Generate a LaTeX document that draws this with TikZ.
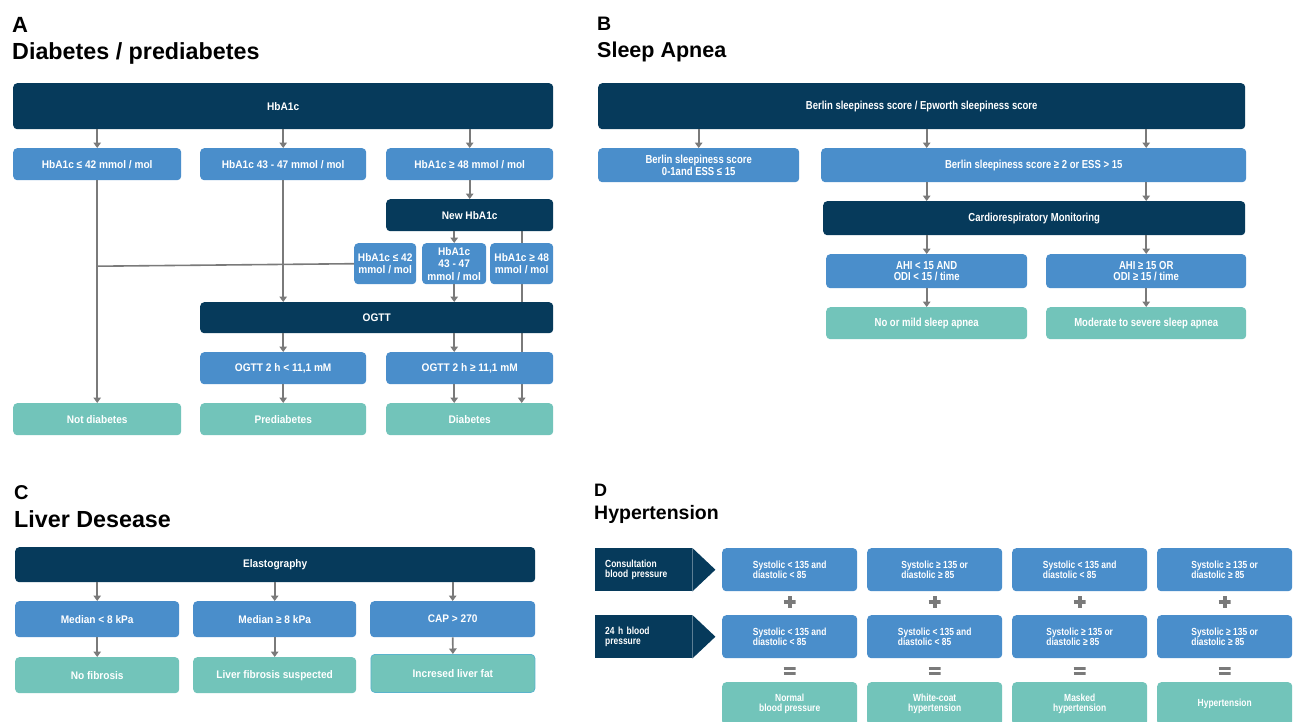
\documentclass[tikz,border=0pt]{standalone}
\usepackage{fontspec}
\setmainfont{Liberation Sans}[FakeStretch=0.92]
\newfontfamily\titlefont{Liberation Sans}
\newfontfamily\condfont{Liberation Sans}[FakeStretch=0.82]
\usetikzlibrary{positioning}
\usetikzlibrary{arrows.meta}
\usetikzlibrary{backgrounds}
\definecolor{dnavy}{HTML}{063A5B}
\definecolor{mblue}{HTML}{4A8ECB}
\definecolor{lteal}{HTML}{72C4BA}
\definecolor{agray}{HTML}{7A7A7A}
\definecolor{fatedge}{HTML}{5AB4CC}
\def\fA{\bfseries\fontsize{11}{12.5}\selectfont}
\def\fB{\condfont\bfseries\fontsize{11.6}{11.7}\selectfont}
\def\fD{\condfont\bfseries\fontsize{10.3}{10.6}\selectfont}
\tikzset{
  box/.style={rounded corners=4pt, text=white, font=\fA, inner sep=2pt, align=center, anchor=north west},
  navybox/.style={box, fill=dnavy},
  bluebox/.style={box, fill=mblue},
  tealbox/.style={box, fill=lteal},
  labelbox/.style={fill=dnavy, text=white, font=\fD, anchor=north west, minimum height=43,
    text width=77pt, inner xsep=10pt, align=left},
  dbox/.style={font=\fD, minimum width=135, minimum height=43},
  arr/.style={draw=agray, line width=1.6pt, -{Triangle[width=7.5pt,length=5.5pt]}},
  ln/.style={draw=agray, line width=1.6pt},
  ttl/.style={anchor=base west, inner sep=0pt, font=\titlefont\bfseries},
  plusmark/.style={minimum size=12pt, inner sep=0pt, path picture={
    \draw[agray, line width=3.8pt] (path picture bounding box.west) -- (path picture bounding box.east)
      (path picture bounding box.north) -- (path picture bounding box.south);}},
  eqmark/.style={minimum width=12pt, minimum height=10pt, inner sep=0pt, path picture={
    \draw[agray, line width=3pt] ([yshift=2.8pt]path picture bounding box.west) -- ([yshift=2.8pt]path picture bounding box.east)
      ([yshift=-2.8pt]path picture bounding box.west) -- ([yshift=-2.8pt]path picture bounding box.east);}}
}
\begin{document}
\begin{tikzpicture}[x=1pt, y=-1pt]
    \useasboundingbox (0,0) rectangle (1294,721);

    \node[ttl, font=\titlefont\bfseries\fontsize{22}{22}\selectfont] (tA) at (12,32.3) {A};
    \node[ttl, font=\titlefont\bfseries\fontsize{23.3}{23}\selectfont] (hA) at (12,59.3) {Diabetes / prediabetes};
    \node[navybox, minimum width=540, minimum height=46] (hb) at (13,83) {HbA1c};
    \node[bluebox, minimum width=168, minimum height=32] (a1) at (13,148) {HbA1c ≤ 42 mmol / mol};
    \node[bluebox, minimum width=166, minimum height=32] (a2) at (200,148) {HbA1c 43 - 47 mmol / mol};
    \node[bluebox, minimum width=167, minimum height=32] (a3) at (386,148) {HbA1c ≥ 48 mmol / mol};
    \node[navybox, minimum width=167, minimum height=32] (nhb) at (386,199) {New HbA1c};
    \node[bluebox, minimum width=62, minimum height=41, inner sep=1pt] (s1) at (354,243) {HbA1c ≤ 42\\mmol / mol};
    \node[bluebox, minimum width=64, minimum height=41, inner sep=1pt] (s2) at (422,243) {HbA1c\\43 - 47\\mmol / mol};
    \node[bluebox, minimum width=63, minimum height=41, inner sep=1pt] (s3) at (490,243) {HbA1c ≥ 48\\mmol / mol};
    \node[navybox, minimum width=353, minimum height=31] (og) at (200,302) {OGTT};
    \node[bluebox, minimum width=166, minimum height=32] (o1) at (200,352) {OGTT 2 h < 11,1 mM};
    \node[bluebox, minimum width=167, minimum height=32] (o2) at (386,352) {OGTT 2 h ≥ 11,1 mM};
    \node[tealbox, minimum width=168, minimum height=32] (nd) at (13,403) {Not diabetes};
    \node[tealbox, minimum width=166, minimum height=32] (pd) at (200,403) {Prediabetes};
    \node[tealbox, minimum width=167, minimum height=32] (db) at (386,403) {Diabetes};
    \draw[arr] (hb.south -| a1.north) -- (a1.north);
    \draw[arr] (hb.south -| a2.north) -- (a2.north);
    \draw[arr] (hb.south -| a3.north) -- (a3.north);
    \draw[arr] (a3.south) -- (nhb.north);
    \draw[arr] (nhb.south -| s2.north) -- (s2.north);
    \begin{scope}[on background layer]
        \fill[white] (0,0) rectangle (1294,721);
        \draw[arr] (nhb.south -| s3.north) -- (db.north -| s3.north);
    \end{scope}
    \draw[arr] (a1.south) -- (nd.north);
    \draw[ln] (s1.west) -- ([yshift=-2.5pt]s1.west -| a1.south);
    \draw[arr] (a2.south) -- (og.north -| a2.south);
    \draw[arr] (s2.south) -- (og.north -| s2.south);
    \draw[arr] (og.south -| o1.north) -- (o1.north);
    \draw[arr] (og.south -| s2.south) -- (o2.north -| s2.south);
    \draw[arr] (o1.south) -- (pd.north);
    \draw[arr] (o2.south -| s2.south) -- (db.north -| s2.south);

    \node[ttl, font=\titlefont\bfseries\fontsize{19.5}{20}\selectfont] (tB) at (597,30.7) {B};
    \node[ttl, font=\titlefont\bfseries\fontsize{21.5}{22}\selectfont] (hB) at (597,57.3) {Sleep Apnea};
    \node[navybox, font=\fB, minimum width=647, minimum height=46] (bs) at (598,83) {Berlin sleepiness score / Epworth sleepiness score};
    \node[bluebox, font=\fB, minimum width=201, minimum height=34] (b1) at (598,148) {Berlin sleepiness score\\0-1and ESS ≤ 15};
    \node[bluebox, font=\fB, minimum width=425, minimum height=34] (b2) at (821,148) {Berlin sleepiness score ≥ 2 or ESS > 15};
    \node[navybox, font=\fB, minimum width=422, minimum height=34] (cm) at (823,201) {Cardiorespiratory Monitoring};
    \node[bluebox, font=\fB, minimum width=201, minimum height=34] (h1) at (826,254) {AHI < 15 AND\\ODI < 15 / time};
    \node[bluebox, font=\fB, minimum width=200, minimum height=34] (h2) at (1046,254) {AHI ≥ 15 OR\\ODI ≥ 15 / time};
    \node[tealbox, font=\fB, minimum width=201, minimum height=32] (r1) at (826,307) {No or mild sleep apnea};
    \node[tealbox, font=\fB, minimum width=200, minimum height=32] (r2) at (1046,307) {Moderate to severe sleep apnea};
    \draw[arr] (bs.south -| b1.north) -- (b1.north);
    \draw[arr] (bs.south -| h1.north) -- (b2.north -| h1.north);
    \draw[arr] (bs.south -| h2.north) -- (b2.north -| h2.north);
    \draw[arr] (b2.south -| h1.north) -- (cm.north -| h1.north);
    \draw[arr] (b2.south -| h2.north) -- (cm.north -| h2.north);
    \draw[arr] (cm.south -| h1.north) -- (h1.north);
    \draw[arr] (cm.south -| h2.north) -- (h2.north);
    \draw[arr] (h1.south) -- (r1.north);
    \draw[arr] (h2.south) -- (r2.north);

    \node[ttl, font=\titlefont\bfseries\fontsize{20}{20}\selectfont] (tC) at (14,499.3) {C};
    \node[ttl, font=\titlefont\bfseries\fontsize{23.3}{23}\selectfont] (hC) at (14,527.3) {Liver Desease};
    \node[navybox, minimum width=520, minimum height=35] (el) at (15,547) {Elastography};
    \node[bluebox, minimum width=164, minimum height=36] (c1) at (15,601) {Median < 8 kPa};
    \node[bluebox, minimum width=163, minimum height=36] (c2) at (193,601) {Median ≥ 8 kPa};
    \node[bluebox, minimum width=165, minimum height=36] (c3) at (370,601) {CAP > 270};
    \node[tealbox, minimum width=164, minimum height=36] (f1) at (15,657) {No fibrosis};
    \node[tealbox, minimum width=163, minimum height=36] (f2) at (193,657) {Liver fibrosis suspected};
    \node[tealbox, draw=fatedge, line width=0.8pt, minimum width=164, minimum height=38] (f3) at (370.5,654) {Incresed liver fat};
    \draw[arr] (el.south -| c1.north) -- (c1.north);
    \draw[arr] (el.south -| c2.north) -- (c2.north);
    \draw[arr] (el.south -| c3.north) -- (c3.north);
    \draw[arr] (c1.south) -- (f1.north);
    \draw[arr] (c2.south) -- (f2.north);
    \draw[arr] (c3.south) -- (f3.north);

    \node[ttl, font=\titlefont\bfseries\fontsize{18}{18}\selectfont] (tD) at (594,496) {D};
    \node[ttl, font=\titlefont\bfseries\fontsize{19.5}{20}\selectfont] (hD) at (594,519.3) {Hypertension};
    \node[labelbox] (dl1) at (595,548) {Consultation\\blood pressure};
    \node[labelbox] (dl2) at (595,615) {24 h blood\\pressure};
    \fill[dnavy] (dl1.north east) -- ([xshift=23pt]dl1.east) -- (dl1.south east) -- cycle;
    \fill[dnavy] (dl2.north east) -- ([xshift=23pt]dl2.east) -- (dl2.south east) -- cycle;
    \node[bluebox, dbox, align=left] (d11) at (722,548) {Systolic < 135 and\\diastolic < 85};
    \node[bluebox, dbox, align=left] (d12) at (867,548) {Systolic ≥ 135 or\\diastolic ≥ 85};
    \node[bluebox, dbox, align=left] (d13) at (1012,548) {Systolic < 135 and\\diastolic < 85};
    \node[bluebox, dbox, align=left] (d14) at (1157,548) {Systolic ≥ 135 or\\diastolic ≥ 85};
    \node[bluebox, dbox, align=left] (d21) at (722,615) {Systolic < 135 and\\diastolic < 85};
    \node[bluebox, dbox, align=left] (d22) at (867,615) {Systolic < 135 and\\diastolic < 85};
    \node[bluebox, dbox, align=left] (d23) at (1012,615) {Systolic ≥ 135 or\\diastolic ≥ 85};
    \node[bluebox, dbox, align=left] (d24) at (1157,615) {Systolic ≥ 135 or\\diastolic ≥ 85};
    \node[tealbox, dbox] (e1) at (722,682) {Normal\\blood pressure};
    \node[tealbox, dbox] (e2) at (867,682) {White-coat\\hypertension};
    \node[tealbox, dbox] (e3) at (1012,682) {Masked\\hypertension};
    \node[tealbox, dbox] (e4) at (1157,682) {Hypertension};
    \node[plusmark] (p1) at (d11.south |- 0,602) {};
    \node[plusmark] (p2) at (d12.south |- 0,602) {};
    \node[plusmark] (p3) at (d13.south |- 0,602) {};
    \node[plusmark] (p4) at (d14.south |- 0,602) {};
    \node[eqmark] (q1) at (d21.south |- 0,671) {};
    \node[eqmark] (q2) at (d22.south |- 0,671) {};
    \node[eqmark] (q3) at (d23.south |- 0,671) {};
    \node[eqmark] (q4) at (d24.south |- 0,671) {};
\end{tikzpicture}
\end{document}
